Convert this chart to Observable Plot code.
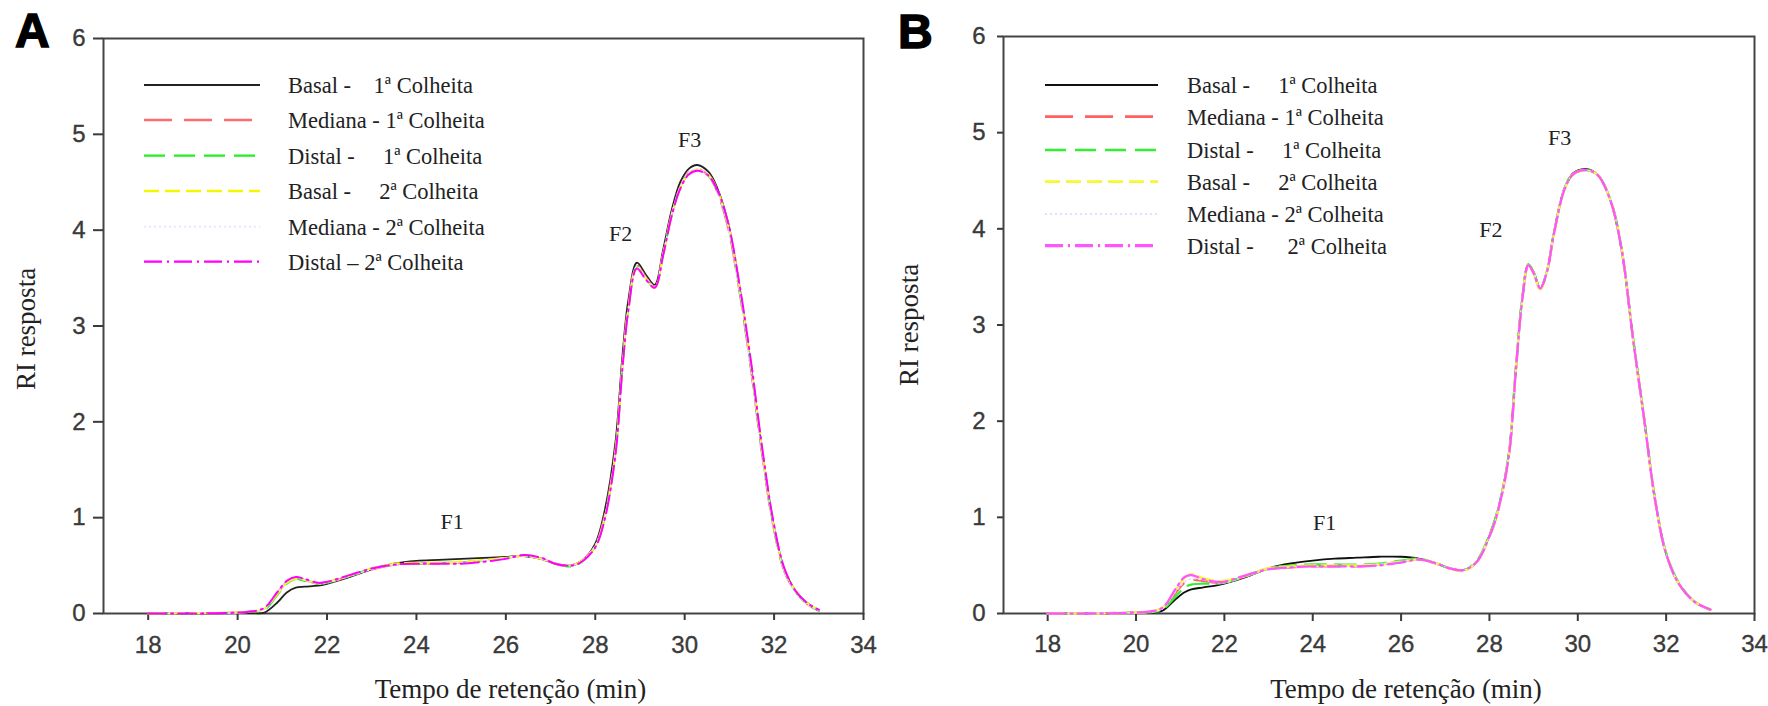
<!DOCTYPE html>
<html><head><meta charset="utf-8">
<script src="https://cdn.jsdelivr.net/npm/d3@7"></script>
<script src="https://cdn.jsdelivr.net/npm/@observablehq/plot@0.6"></script>
<style>
body{margin:0;background:#fff;}
#wrap{position:relative;width:1768px;height:706px;display:flex;}
#wrap > svg{flex:none;}
#overlay{position:absolute;left:0;top:0;pointer-events:none;}
</style></head><body><div id="wrap"></div>
<script>
// ---------- data ----------
const xTicks = [18, 20, 22, 24, 26, 28, 30, 32, 34];
const yTicks = [0, 1, 2, 3, 4, 5, 6];
const xTitle = "Tempo de retenção (min)";
const yTitle = "RI resposta";
const panelLetters = ["A", "B"];

const legendA = ["Basal -    1ª Colheita", "Mediana - 1ª Colheita", "Distal -     1ª Colheita",
                 "Basal -     2ª Colheita", "Mediana - 2ª Colheita", "Distal – 2ª Colheita"];
const legendB = ["Basal -     1ª Colheita", "Mediana - 1ª Colheita", "Distal -     1ª Colheita",
                 "Basal -     2ª Colheita", "Mediana - 2ª Colheita", "Distal -      2ª Colheita"];

// Panel A – retention time (min)
const tA = [18, 19, 20, 20.3, 20.6, 20.9, 21.1, 21.3, 21.5, 21.8, 22, 22.5, 23, 23.5, 24, 24.5, 25, 25.5, 26, 26.4,
            26.8, 27.1, 27.45, 27.7, 28, 28.2, 28.45, 28.61, 28.74, 28.93, 29.14, 29.33, 29.52, 29.71, 29.9,
            30.09, 30.28, 30.53, 30.72, 30.97, 31.22, 31.48, 31.73, 31.98, 32.23, 32.49, 32.74, 33];
const basal1A   = [0, 0, 0.005, 0.005, 0.01, 0.12, 0.22, 0.27, 0.28, 0.29, 0.31, 0.38, 0.46, 0.52, 0.55, 0.56, 0.57, 0.58, 0.59, 0.6,
                   0.57, 0.52, 0.5, 0.55, 0.73, 1.05, 1.78, 2.7, 3.27, 3.66, 3.53, 3.43, 3.8, 4.21, 4.5,
                   4.64, 4.68, 4.61, 4.45, 4.08, 3.43, 2.6, 1.71, 0.95, 0.46, 0.23, 0.11, 0.03];
const mediana1A = [0, 0, 0.01, 0.02, 0.05, 0.22, 0.33, 0.37, 0.35, 0.31, 0.32, 0.39, 0.46, 0.51, 0.52, 0.52, 0.53, 0.55, 0.58, 0.6,
                   0.57, 0.52, 0.5, 0.55, 0.71, 1.0, 1.7, 2.62, 3.2, 3.63, 3.5, 3.41, 3.76, 4.17, 4.45,
                   4.6, 4.64, 4.57, 4.41, 4.03, 3.38, 2.56, 1.67, 0.92, 0.44, 0.22, 0.1, 0.03];
const distal1A  = [0, 0, 0.01, 0.02, 0.04, 0.2, 0.31, 0.36, 0.34, 0.31, 0.32, 0.39, 0.47, 0.51, 0.52, 0.53, 0.53, 0.55, 0.58, 0.61,
                   0.57, 0.52, 0.49, 0.54, 0.7, 0.98, 1.68, 2.6, 3.18, 3.62, 3.49, 3.4, 3.75, 4.16, 4.44,
                   4.59, 4.63, 4.57, 4.42, 4.05, 3.4, 2.58, 1.69, 0.93, 0.45, 0.22, 0.1, 0.03];
const basal2A   = [0, 0.005, 0.01, 0.02, 0.05, 0.21, 0.32, 0.36, 0.35, 0.32, 0.33, 0.4, 0.47, 0.52, 0.53, 0.53, 0.54, 0.56, 0.58, 0.6,
                   0.57, 0.52, 0.5, 0.55, 0.7, 0.97, 1.66, 2.58, 3.17, 3.61, 3.49, 3.4, 3.74, 4.15, 4.44,
                   4.59, 4.63, 4.58, 4.43, 4.07, 3.43, 2.62, 1.72, 0.95, 0.46, 0.23, 0.11, 0.04];
const mediana2A = [0, 0, 0.01, 0.02, 0.05, 0.22, 0.33, 0.37, 0.35, 0.31, 0.32, 0.39, 0.46, 0.51, 0.52, 0.52, 0.53, 0.55, 0.58, 0.6,
                   0.57, 0.52, 0.5, 0.55, 0.71, 0.99, 1.69, 2.61, 3.19, 3.62, 3.5, 3.41, 3.76, 4.17, 4.45,
                   4.6, 4.64, 4.57, 4.41, 4.04, 3.39, 2.57, 1.68, 0.93, 0.44, 0.22, 0.1, 0.03];
const distal2A  = [0, 0, 0.01, 0.02, 0.06, 0.23, 0.34, 0.38, 0.36, 0.32, 0.33, 0.4, 0.47, 0.51, 0.52, 0.52, 0.52, 0.54, 0.57, 0.61,
                   0.58, 0.52, 0.5, 0.54, 0.69, 0.96, 1.65, 2.57, 3.16, 3.6, 3.48, 3.4, 3.74, 4.15, 4.43,
                   4.58, 4.62, 4.57, 4.43, 4.08, 3.45, 2.64, 1.74, 0.97, 0.47, 0.23, 0.11, 0.04];

// Panel B – retention time (min)
const tB = [18, 19, 20, 20.3, 20.6, 20.9, 21.1, 21.25, 21.5, 21.8, 22, 22.5, 23, 23.5, 24, 24.5, 25, 25.5, 26, 26.4,
            26.8, 27.1, 27.4, 27.7, 28, 28.2, 28.44, 28.6, 28.75, 28.88, 29.0, 29.15, 29.3, 29.46, 29.7,
            29.9, 30.2, 30.45, 30.75, 31.0, 31.25, 31.5, 31.75, 32.0, 32.3, 32.65, 33];
const basal1B   = [0, 0, 0.01, 0.01, 0.03, 0.15, 0.22, 0.25, 0.27, 0.29, 0.31, 0.38, 0.47, 0.52, 0.55, 0.57, 0.58, 0.59, 0.59, 0.57,
                   0.52, 0.47, 0.45, 0.53, 0.81, 1.09, 1.66, 2.56, 3.3, 3.63, 3.55, 3.38, 3.55, 3.96, 4.42,
                   4.58, 4.62, 4.56, 4.28, 3.76, 2.86, 2.03, 1.18, 0.62, 0.3, 0.12, 0.04];
const mediana1B = [0, 0, 0.01, 0.015, 0.05, 0.22, 0.32, 0.35, 0.34, 0.32, 0.32, 0.39, 0.46, 0.48, 0.49, 0.49, 0.49, 0.51, 0.54, 0.56,
                   0.52, 0.47, 0.45, 0.53, 0.8, 1.08, 1.65, 2.55, 3.3, 3.62, 3.54, 3.38, 3.55, 3.95, 4.42,
                   4.57, 4.61, 4.56, 4.28, 3.76, 2.86, 2.03, 1.18, 0.62, 0.3, 0.12, 0.04];
const distal1B  = [0, 0, 0.01, 0.015, 0.04, 0.18, 0.27, 0.3, 0.31, 0.31, 0.32, 0.39, 0.47, 0.5, 0.51, 0.51, 0.51, 0.52, 0.55, 0.57,
                   0.52, 0.47, 0.45, 0.54, 0.82, 1.1, 1.67, 2.57, 3.31, 3.63, 3.55, 3.39, 3.56, 3.96, 4.42,
                   4.58, 4.61, 4.56, 4.29, 3.77, 2.87, 2.04, 1.19, 0.63, 0.31, 0.12, 0.04];
const basal2B   = [0, 0, 0.01, 0.02, 0.06, 0.25, 0.37, 0.41, 0.37, 0.34, 0.34, 0.4, 0.47, 0.49, 0.5, 0.5, 0.5, 0.51, 0.54, 0.56,
                   0.52, 0.47, 0.44, 0.53, 0.8, 1.08, 1.65, 2.55, 3.29, 3.62, 3.54, 3.37, 3.55, 3.95, 4.41,
                   4.57, 4.61, 4.56, 4.28, 3.76, 2.86, 2.03, 1.18, 0.62, 0.3, 0.12, 0.04];
const mediana2B = [0, 0, 0.01, 0.015, 0.05, 0.23, 0.33, 0.36, 0.35, 0.32, 0.32, 0.39, 0.46, 0.48, 0.49, 0.49, 0.49, 0.51, 0.54, 0.56,
                   0.52, 0.47, 0.45, 0.53, 0.8, 1.08, 1.65, 2.55, 3.3, 3.62, 3.54, 3.38, 3.55, 3.95, 4.42,
                   4.57, 4.61, 4.56, 4.28, 3.76, 2.86, 2.03, 1.18, 0.62, 0.3, 0.12, 0.04];
const distal2B  = [0, 0, 0.01, 0.02, 0.06, 0.26, 0.38, 0.4, 0.36, 0.33, 0.33, 0.4, 0.46, 0.48, 0.49, 0.49, 0.49, 0.5, 0.53, 0.56,
                   0.52, 0.47, 0.45, 0.53, 0.8, 1.08, 1.64, 2.54, 3.29, 3.62, 3.54, 3.38, 3.55, 3.95, 4.41,
                   4.57, 4.61, 4.56, 4.28, 3.76, 2.86, 2.03, 1.18, 0.62, 0.3, 0.12, 0.04];

// Peak labels (time, response)
const peakNames = ["F1", "F2", "F3"];
const peakTA = [24.8, 28.57, 30.11];
const peakVA = [0.96, 3.96, 4.94];
const peakTB = [24.27, 28.03, 29.59];
const peakVB = [0.94, 3.99, 4.94];

// ---------- styles ----------
const stylesA = [
  {stroke: "#222222", width: 1.8, lw: 2.1, dash: null},
  {stroke: "#ff6b6b", width: 2.2, lw: 2.5, dash: "28,12"},
  {stroke: "#22ee22", width: 2, lw: 2.3, dash: "21,9"},
  {stroke: "#f6f600", width: 2, lw: 2.3, dash: "15,6"},
  {stroke: "#e4e4ff", width: 1.5, lw: 1.8, dash: "2,3"},
  {stroke: "#ff00ff", width: 2, lw: 2.3, dash: "18,5,2,5"}
];
const stylesB = [
  {stroke: "#111111", width: 1.8, lw: 2.1, dash: null},
  {stroke: "#ff6060", width: 2.4, lw: 2.7, dash: "28,12"},
  {stroke: "#33ee33", width: 2.2, lw: 2.3, dash: "21,9"},
  {stroke: "#f8f830", width: 2.4, lw: 2.7, dash: "15,6"},
  {stroke: "#e0e0ff", width: 1.5, lw: 1.8, dash: "2,3"},
  {stroke: "#ff55ff", width: 2.3, lw: 3.3, dash: "18,5,2,5"}
];

const serif = "'Liberation Serif', 'Times New Roman', serif";
const sans = "'Liberation Sans', Arial, sans-serif";

function panel(cfg) {
  const marks = [
    Plot.frame({stroke: "#444", strokeWidth: 2}),
    Plot.axisX({ticks: xTicks, tickFormat: d => String(d), tickSize: cfg.xTickSize, tickPadding: cfg.xTickPad,
                strokeWidth: 2, label: null, fontSize: 24, fontFamily: sans}),
    Plot.axisY({ticks: yTicks, tickFormat: d => String(d), tickSize: cfg.yTickSize, tickPadding: cfg.yTickPad,
                strokeWidth: 2, label: null, fontSize: 24, fontFamily: sans})
  ];
  cfg.series.forEach((vals, i) => {
    const s = cfg.styles[i];
    const data = cfg.t.map((t, j) => ({t, v: vals[j]}));
    marks.push(Plot.line(data, {x: "t", y: "v", stroke: s.stroke, strokeWidth: s.width,
      strokeDasharray: s.dash || undefined, curve: "catmull-rom"}));
  });
  const peaks = peakNames.map((n, i) => ({n, t: cfg.peakT[i], v: cfg.peakV[i]}));
  marks.push(Plot.text(peaks, {x: "t", y: "v", text: "n", fontFamily: serif, fontSize: 22, fill: "#222"}));
  marks.push(Plot.text([xTitle], {text: d => d, frameAnchor: "bottom", textAnchor: "middle", lineAnchor: "middle",
    dx: cfg.xTitleDx, dy: cfg.xTitleDy, fontFamily: serif, fontSize: 27, fill: "#222"}));
  marks.push(Plot.text([yTitle], {text: d => d, frameAnchor: "left", textAnchor: "middle", lineAnchor: "middle",
    rotate: -90, dx: cfg.yTitleDx, dy: cfg.yTitleDy, fontFamily: serif, fontSize: 27, fill: "#222"}));
  const svg = Plot.plot({
    width: 884, height: 706,
    marginLeft: cfg.ml, marginRight: cfg.mr, marginTop: cfg.mt, marginBottom: cfg.mb,
    x: {domain: [17, 34]},
    y: {domain: [0, 6]},
    style: {fontFamily: sans, fontSize: "24px", color: "#3a3a3a", background: "#fff", overflow: "visible"},
    marks
  });
  d3.select(svg).selectAll('g[aria-label$="tick label"]')
    .attr("font-size", 24).style("font-size", "24px").attr("font-family", sans)
    .attr("stroke", "#3a3a3a").attr("stroke-width", 0.35);
  return svg;
}

const wrap = document.getElementById("wrap");
wrap.appendChild(panel({
  t: tA, series: [basal1A, mediana1A, distal1A, basal2A, mediana2A, distal2A], styles: stylesA,
  peakT: peakTA, peakV: peakVA,
  ml: 103, mr: 21, mt: 38, mb: 93,
  xTickSize: 7, xTickPad: 15, yTickSize: 10, yTickPad: 8,
  xTitleDx: 27, xTitleDy: 76, yTitleDx: -77, yTitleDy: 3
}));
wrap.appendChild(panel({
  t: tB, series: [basal1B, mediana1B, distal1B, basal2B, mediana2B, distal2B], styles: stylesB,
  peakT: peakTB, peakV: peakVB,
  ml: 119, mr: 14, mt: 36, mb: 93,
  xTickSize: 8, xTickPad: 13, yTickSize: 6, yTickPad: 12,
  xTitleDx: 27, xTitleDy: 76, yTitleDx: -94, yTitleDy: 0
}));

// ---------- legends and panel letters (overlay) ----------
const ov = d3.select(wrap).append("svg").attr("id", "overlay").attr("width", 1768).attr("height", 706);
function legend(labels, styles, x0, x1, tx, rows) {
  labels.forEach((lab, i) => {
    const s = styles[i];
    ov.append("line").attr("x1", x0).attr("x2", x1).attr("y1", rows[i]).attr("y2", rows[i])
      .attr("stroke", s.stroke).attr("stroke-width", s.lw)
      .attr("stroke-dasharray", s.dash);
    ov.append("text").attr("x", tx).attr("y", rows[i]).attr("dy", "0.35em")
      .attr("font-family", serif).attr("font-size", 22.5).attr("fill", "#222")
      .style("white-space", "pre").text(lab);
  });
}
legend(legendA, stylesA, 144, 260, 288, [85, 120, 155.7, 191, 226.7, 261.7]);
legend(legendB, stylesB, 1045, 1158, 1187, [85, 116.7, 150, 181.7, 214, 245.7]);
[[15, 47], [898, 48]].forEach(([x, y], i) => {
  ov.append("text").attr("x", x).attr("y", y).attr("font-family", sans).attr("font-weight", 900)
    .attr("font-size", 48).attr("fill", "#000").attr("stroke", "#000").attr("stroke-width", 1.5)
    .text(panelLetters[i]);
});
</script></body></html>
